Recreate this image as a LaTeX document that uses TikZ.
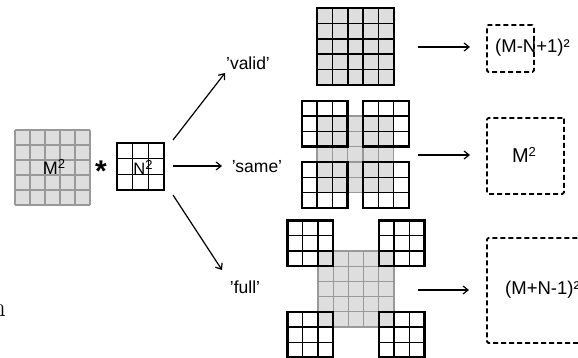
\documentclass[tikz,border=0pt]{standalone}
\usepackage{fontspec}
\setsansfont{Liberation Sans}
\usetikzlibrary{arrows.meta}
\newcommand\bigsq[1]{\raisebox{#1}{\fontsize{13}{13}\selectfont 2}}
\tikzset{
 lbl/.style={font=\sffamily\fontsize{17.5}{20}\selectfont, inner sep=0pt},
 conn/.style={line width=1.2pt, -{Straight Barb[length=5pt,width=8pt]}},
 mline/.style={draw=black!40, line width=1.2pt},
 mfill/.style={fill=black!13},
 kin/.style={line width=1.3pt},
 kout/.style={line width=2.3pt},
 vin/.style={line width=1.7pt},
 dbox/.style={draw, line width=1.8pt, dash pattern=on 5pt off 3pt, rounded corners=1.5pt, inner sep=0pt},
 frame/.style={inner sep=0pt, anchor=north west},
}
\newcommand\mgrid[4]{%
  \fill[mfill] (#1,#2) rectangle ({#1+#4*#3},{#2+#4*#3});
  \foreach \i in {0,...,#4}{
    \draw[mline] ({#1+\i*#3},#2) -- ({#1+\i*#3},{#2+#4*#3});
    \draw[mline] (#1,{#2+\i*#3}) -- ({#1+#4*#3},{#2+\i*#3});
  }}
\newcommand\kgrid[3]{%
  \foreach \i in {1,2}{
    \draw[kin] ({#1+\i*#3},#2) -- ({#1+\i*#3},{#2+3*#3});
    \draw[kin] (#1,{#2+\i*#3}) -- ({#1+3*#3},{#2+\i*#3});
  }
  \draw[kout] (#1,#2) rectangle ({#1+3*#3},{#2+3*#3});}
\begin{document}
\begin{tikzpicture}[x=1pt,y=-1pt]
\useasboundingbox (0,0) rectangle (578,357);

% stray glyph at left edge
\node[anchor=base west, inner sep=0pt, font=\fontsize{27}{27}\selectfont] (stray) at (-8,316) {n};

% left M and kernel N
\mgrid{15}{130}{15}{5}
\node[frame, minimum width=75pt, minimum height=75pt] (Mleft) at (15,130) {};
\node[lbl, font=\sffamily\fontsize{18}{20}\selectfont] (Mlbl) at (54,167) {M\bigsq{5.5pt}};
\node[inner sep=0pt, font=\sffamily\bfseries\fontsize{30}{30}\selectfont] (star) at (101,171) {*};
\kgrid{117}{143}{15.6}
\node[frame, minimum width=47pt, minimum height=47pt] (kern) at (117,143) {};
\node[lbl, font=\sffamily\fontsize{16.5}{18}\selectfont] (Nlbl) at (143,167) {N\bigsq{5pt}};

% mode labels
\node[lbl] (valid) at (248,63) {'valid'};
\node[lbl] (same) at (257,167) {'same'};
\node[lbl] (full) at (245,287) {'full'};

\coordinate (kA) at (173,140);
\coordinate (kB) at (173,166);
\coordinate (kC) at (173,195);
\coordinate (vA) at (225,73);
\coordinate (sA) at (222,166);
\coordinate (fA) at (222,270);
\draw[conn] (kA) -- (vA);
\draw[conn] (kB) -- (sA);
\draw[conn] (kC) -- (fA);

% valid
\fill[mfill] (317,8) rectangle (394,85);
\foreach \i in {1,...,4}{
  \draw[vin] ({317+\i*15.4},8) -- ({317+\i*15.4},85);
  \draw[vin] (317,{8+\i*15.4}) -- (394,{8+\i*15.4});
}
\draw[kout] (317,8) rectangle (394,85);
\node[frame, minimum width=77pt, minimum height=77pt] (validgrid) at (317,8) {};

% same
\mgrid{317}{116}{15.3}{5}
\kgrid{301.7}{100.7}{15.3}
\kgrid{362.9}{100.7}{15.3}
\kgrid{301.7}{161.9}{15.3}
\kgrid{362.9}{161.9}{15.3}
\node[frame, minimum width=107pt, minimum height=107pt] (samegrid) at (301.7,100.7) {};

% full
\mgrid{318}{251}{15.2}{5}
\kgrid{287.6}{220.6}{15.2}
\kgrid{378.8}{220.6}{15.2}
\kgrid{287.6}{311.8}{15.2}
\kgrid{378.8}{311.8}{15.2}
\node[frame, minimum width=137pt, minimum height=137pt] (fullgrid) at (287.6,220.6) {};

% outputs
\coordinate (vo1) at (418,47);
\coordinate (vo2) at (470,47);
\coordinate (so1) at (418,155);
\coordinate (so2) at (470,155);
\coordinate (fo1) at (418,290);
\coordinate (fo2) at (469,290);
\draw[conn] (vo1) -- (vo2);
\draw[conn] (so1) -- (so2);
\draw[conn] (fo1) -- (fo2);

\node[dbox, frame, minimum width=47pt, minimum height=47pt] (vbox) at (486,24) {};
\node[lbl, anchor=west, font=\sffamily\fontsize{18.5}{20}\selectfont] (vtxt) at (495,48) {(M-N+1)²};
\node[dbox, frame, minimum width=77pt, minimum height=76pt] (sbox) at (486,117) {};
\node[lbl, font=\sffamily\fontsize{20}{22}\selectfont] (stxt) at (524,155) {M\bigsq{6pt}};
\node[dbox, frame, minimum width=108pt, minimum height=105pt] (fbox) at (486,237) {};
\node[lbl, anchor=west, font=\sffamily\fontsize{18.5}{20}\selectfont] (ftxt) at (505,290) {(M+N-1)²};
\end{tikzpicture}
\end{document}
